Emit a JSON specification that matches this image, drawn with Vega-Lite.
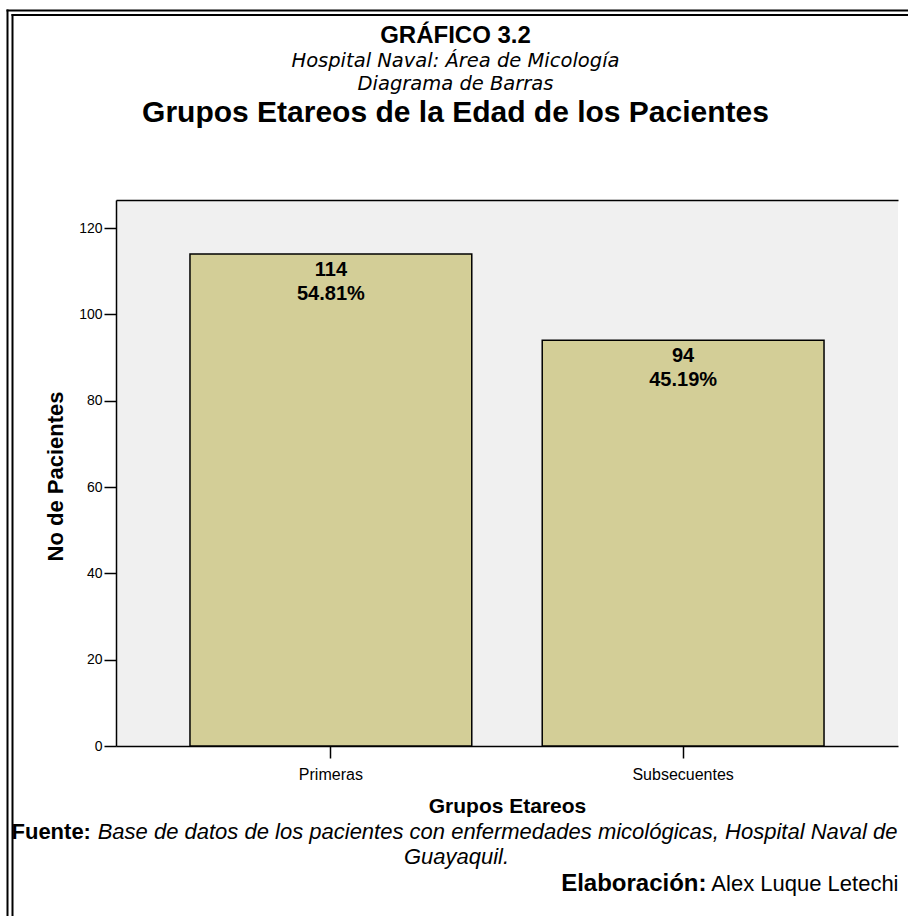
{
  "$schema": "https://vega.github.io/schema/vega-lite/v6.json",
  "width": 782,
  "height": 546,
  "autosize": {"type": "none"},
  "padding": {"left": 116, "top": 200, "right": 10, "bottom": 170},
  "background": "#ffffff",
  "config": {
    "font": "Liberation Sans",
    "view": {"fill": "#f0f0f0", "stroke": null},
    "axis": {"grid": false}
  },
  "datasets": {
    "grupos": [
      {"grupo": "Primeras", "n": 114, "pct": "54.81%"},
      {"grupo": "Subsecuentes", "n": 94, "pct": "45.19%"}
    ]
  },
  "data": {"name": "grupos"},
  "resolve": {"scale": {"x": "independent", "y": "independent"}},
  "layer": [
    {
      "layer": [
        {
          "mark": {"type": "bar", "fill": "#d3ce97", "stroke": "#000000", "strokeWidth": 1.5},
          "encoding": {
            "x": {
              "field": "grupo", "type": "nominal", "sort": null,
              "scale": {"paddingInner": 0.2, "paddingOuter": 0.21},
              "axis": {
                "orient": "bottom", "domainColor": "#000000", "domainWidth": 1.5,
                "tickColor": "#000000", "tickWidth": 1.5, "tickSize": 12,
                "labelFont": "Liberation Sans", "labelFontSize": 16, "labelColor": "#000000",
                "labelPadding": 8, "labelAngle": 0,
                "title": "Grupos Etareos", "titleFont": "Liberation Sans", "titleFontSize": 21,
                "titleFontWeight": "bold", "titleColor": "#000000",
                "titleX": 391, "titleY": 66, "titleAlign": "center", "titleBaseline": "alphabetic"
              }
            },
            "y": {
              "field": "n", "type": "quantitative",
              "scale": {"domain": [0, 126.5], "nice": false},
              "axis": {
                "orient": "left", "values": [0, 20, 40, 60, 80, 100, 120],
                "domainColor": "#000000", "domainWidth": 1.5,
                "tickColor": "#000000", "tickWidth": 1.5, "tickSize": 12,
                "labelFont": "Liberation Sans", "labelFontSize": 14, "labelColor": "#000000", "labelPadding": 2,
                "title": "No de Pacientes", "titleFont": "Liberation Sans", "titleFontSize": 22,
                "titleFontWeight": "bold", "titleColor": "#000000",
                "titleX": -54, "titleY": 276, "titleAngle": -90, "titleAlign": "center", "titleBaseline": "alphabetic"
              }
            }
          }
        },
        {
          "mark": {"type": "text", "font": "Liberation Sans", "fontWeight": "bold", "fontSize": 20, "baseline": "alphabetic", "dy": 22, "color": "#000000"},
          "encoding": {
            "x": {"field": "grupo", "type": "nominal", "sort": null},
            "y": {"field": "n", "type": "quantitative"},
            "text": {"field": "n"}
          }
        },
        {
          "mark": {"type": "text", "font": "Liberation Sans", "fontWeight": "bold", "fontSize": 20, "baseline": "alphabetic", "dy": 46, "color": "#000000"},
          "encoding": {
            "x": {"field": "grupo", "type": "nominal", "sort": null},
            "y": {"field": "n", "type": "quantitative"},
            "text": {"field": "pct"}
          }
        }
      ]
    },
    {
      "mark": {"type": "point", "opacity": 0},
      "encoding": {
        "x": {"field": "n", "type": "quantitative", "scale": {"range": [-110, 800]},
              "axis": {"orient": "top", "offset": 190, "domainColor": "#000000", "domainWidth": 2, "ticks": false, "labels": false, "title": null}},
        "y": {"field": "n", "type": "quantitative", "scale": {"range": [716, -191]},
              "axis": {"orient": "left", "offset": 109, "domainColor": "#000000", "domainWidth": 2, "ticks": false, "labels": false, "title": null}}
      }
    },
    {
      "mark": {"type": "point", "opacity": 0},
      "encoding": {
        "x": {"field": "n", "type": "quantitative", "scale": {"range": [-105, 800]},
              "axis": {"orient": "top", "offset": 185.5, "domainColor": "#000000", "domainWidth": 2, "ticks": false, "labels": false, "title": null}},
        "y": {"field": "n", "type": "quantitative", "scale": {"range": [716, -186.5]},
              "axis": {"orient": "left", "offset": 104, "domainColor": "#000000", "domainWidth": 2, "ticks": false, "labels": false, "title": null}}
      }
    },
    {
      "mark": {"type": "point", "opacity": 0},
      "encoding": {
        "x": {"field": "n", "type": "quantitative",
              "axis": {"orient": "top", "domainColor": "#000000", "domainWidth": 1.5, "ticks": false, "labels": false,
                       "title": "Grupos Etareos de la Edad de los Pacientes", "titleFont": "Liberation Sans", "titleFontSize": 30,
                       "titleFontWeight": "bold", "titleColor": "#000000", "titleX": 339, "titleY": -79,
                       "titleAlign": "center", "titleBaseline": "alphabetic"}},
        "y": {"field": "n", "type": "quantitative",
              "axis": {"orient": "right", "domain": false, "ticks": false, "labels": false,
                       "title": "GRÁFICO 3.2", "titleFont": "Liberation Sans", "titleFontSize": 24,
                       "titleFontWeight": "bold", "titleColor": "#000000", "titleX": -443, "titleY": -158, "titleAngle": 0,
                       "titleAlign": "center", "titleBaseline": "alphabetic"}}
      }
    },
    {
      "mark": {"type": "point", "opacity": 0},
      "encoding": {
        "x": {"field": "n", "type": "quantitative",
              "axis": {"orient": "top", "domain": false, "ticks": false, "labels": false,
                       "title": "Hospital Naval: Área de Micología", "titleFont": "DejaVu Sans", "titleFontSize": 19.5,
                       "titleFontWeight": "normal", "titleFontStyle": "italic", "titleColor": "#000000", "titleX": 339, "titleY": -134,
                       "titleAlign": "center", "titleBaseline": "alphabetic"}},
        "y": {"field": "n", "type": "quantitative",
              "axis": {"orient": "right", "domain": false, "ticks": false, "labels": false,
                       "title": "Diagrama de Barras", "titleFont": "DejaVu Sans", "titleFontSize": 19.5,
                       "titleFontWeight": "normal", "titleFontStyle": "italic", "titleColor": "#000000", "titleX": -443, "titleY": -111, "titleAngle": 0,
                       "titleAlign": "center", "titleBaseline": "alphabetic"}}
      }
    },
    {
      "mark": {"type": "point", "opacity": 0},
      "encoding": {
        "x": {"field": "n", "type": "quantitative",
              "axis": {"orient": "bottom", "domain": false, "ticks": false, "labels": false,
                       "title": "Fuente:", "titleFont": "Liberation Sans", "titleFontSize": 22,
                       "titleFontWeight": "bold", "titleColor": "#000000", "titleX": -105, "titleY": 92,
                       "titleAlign": "left", "titleBaseline": "alphabetic"}},
        "y": {"field": "n", "type": "quantitative",
              "axis": {"orient": "right", "domain": false, "ticks": false, "labels": false,
                       "title": "Base de datos de los pacientes con enfermedades micológicas, Hospital Naval de", "titleFont": "Liberation Sans", "titleFontSize": 22,
                       "titleFontWeight": "normal", "titleFontStyle": "italic", "titleColor": "#000000", "titleX": -1, "titleY": 638, "titleAngle": 0,
                       "titleAlign": "right", "titleBaseline": "alphabetic"}}
      }
    },
    {
      "mark": {"type": "point", "opacity": 0},
      "encoding": {
        "x": {"field": "n", "type": "quantitative",
              "axis": {"orient": "bottom", "domain": false, "ticks": false, "labels": false,
                       "title": "Guayaquil.", "titleFont": "Liberation Sans", "titleFontSize": 22,
                       "titleFontWeight": "normal", "titleFontStyle": "italic", "titleColor": "#000000", "titleX": 340, "titleY": 117,
                       "titleAlign": "center", "titleBaseline": "alphabetic"}},
        "y": {"field": "n", "type": "quantitative",
              "axis": {"orient": "right", "domain": false, "ticks": false, "labels": false,
                       "title": "Elaboración:", "titleFont": "Liberation Sans", "titleFontSize": 24,
                       "titleFontWeight": "bold", "titleColor": "#000000", "titleX": -192, "titleY": 690, "titleAngle": 0,
                       "titleAlign": "right", "titleBaseline": "alphabetic"}}
      }
    },
    {
      "mark": {"type": "point", "opacity": 0},
      "encoding": {
        "x": {"field": "n", "type": "quantitative",
              "axis": {"orient": "bottom", "domain": false, "ticks": false, "labels": false,
                       "title": "Alex Luque Letechi", "titleFont": "Liberation Sans", "titleFontSize": 22,
                       "titleFontWeight": "normal", "titleColor": "#000000", "titleX": 782, "titleY": 144,
                       "titleAlign": "right", "titleBaseline": "alphabetic"}}
      }
    }
  ]
}
